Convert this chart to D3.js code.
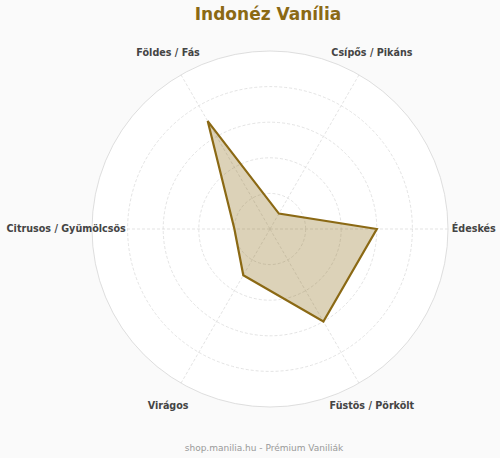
<!DOCTYPE html>
<html lang="hu">
<head>
<meta charset="UTF-8">
<script src="https://cdnjs.cloudflare.com/ajax/libs/d3/7.8.5/d3.min.js"></script>
<title>Indonéz Vanília</title>
<style>
    body { margin: 0; background: #fafafa; }
    svg { display: block; font-family: "DejaVu Sans", sans-serif; }
</style>
</head>
<body>
<svg width="500" height="458"></svg>
<script>
    // ízprofil, 0-10 skálán
    var axes = ["Édeskés", "Csípős / Pikáns", "Földes / Fás", "Citrusos / Gyümölcsös", "Virágos", "Füstös / Pörkölt"];
    var values = [6, 1, 7, 2, 3, 6];
    var levels = [2, 4, 6, 8, 10];

    var svg = d3.select("svg");
    var cx = 270, cy = 229, radius = 178;

    var r = d3.scaleLinear().domain([0, 10]).range([0, radius]);
    var angle = d3.scaleLinear().domain([0, axes.length]).range([0, 2 * Math.PI]);

    function pt(i, v) {
        var a = angle(i);
        return [cx + r(v) * Math.cos(a), cy - r(v) * Math.sin(a)];
    }

    svg.append("text")
        .attr("x", 268).attr("y", 20)
        .attr("text-anchor", "middle")
        .style("font-size", "17px").style("font-weight", "bold")
        .style("fill", "#8b6914")
        .text("Indonéz Vanília");

    svg.append("circle")
        .attr("cx", cx).attr("cy", cy).attr("r", radius)
        .style("fill", "#fff").style("stroke", "#d6d6d6").style("stroke-width", 0.8);

    svg.selectAll("circle.level")
        .data(levels.slice(0, -1))
        .enter().append("circle")
        .attr("class", "level")
        .attr("cx", cx).attr("cy", cy)
        .attr("r", d => r(d))
        .style("fill", "none").style("stroke", "#dcdcdc")
        .style("stroke-width", 0.8).style("stroke-dasharray", "3,2");

    svg.selectAll("line.spoke")
        .data(axes)
        .enter().append("line")
        .attr("class", "spoke")
        .attr("x1", cx).attr("y1", cy)
        .attr("x2", (d, i) => pt(i, 10)[0])
        .attr("y2", (d, i) => pt(i, 10)[1])
        .style("stroke", "#dcdcdc").style("stroke-width", 0.8)
        .style("stroke-dasharray", "3,2");

    var line = d3.line().curve(d3.curveLinearClosed);
    svg.append("path")
        .attr("d", line(values.map((v, i) => pt(i, v))))
        .style("fill", "rgba(139,105,20,0.3)")
        .style("stroke", "#8b6914").style("stroke-width", 2.2)
        .style("stroke-linejoin", "miter");

    svg.selectAll("text.axis")
        .data(axes)
        .enter().append("text")
        .attr("class", "axis")
        .attr("x", (d, i) => pt(i, 11.45)[0])
        .attr("y", (d, i) => pt(i, 11.45)[1])
        .attr("dy", "0.35em")
        .attr("text-anchor", "middle")
        .style("font-size", "9.6px").style("font-weight", "bold")
        .style("fill", "#444")
        .text(d => d);

    svg.append("text")
        .attr("x", 264).attr("y", 451)
        .attr("text-anchor", "middle")
        .style("font-size", "9px").style("fill", "#999")
        .text("shop.manilia.hu - Prémium Vaniliák");
</script>
</body>
</html>
